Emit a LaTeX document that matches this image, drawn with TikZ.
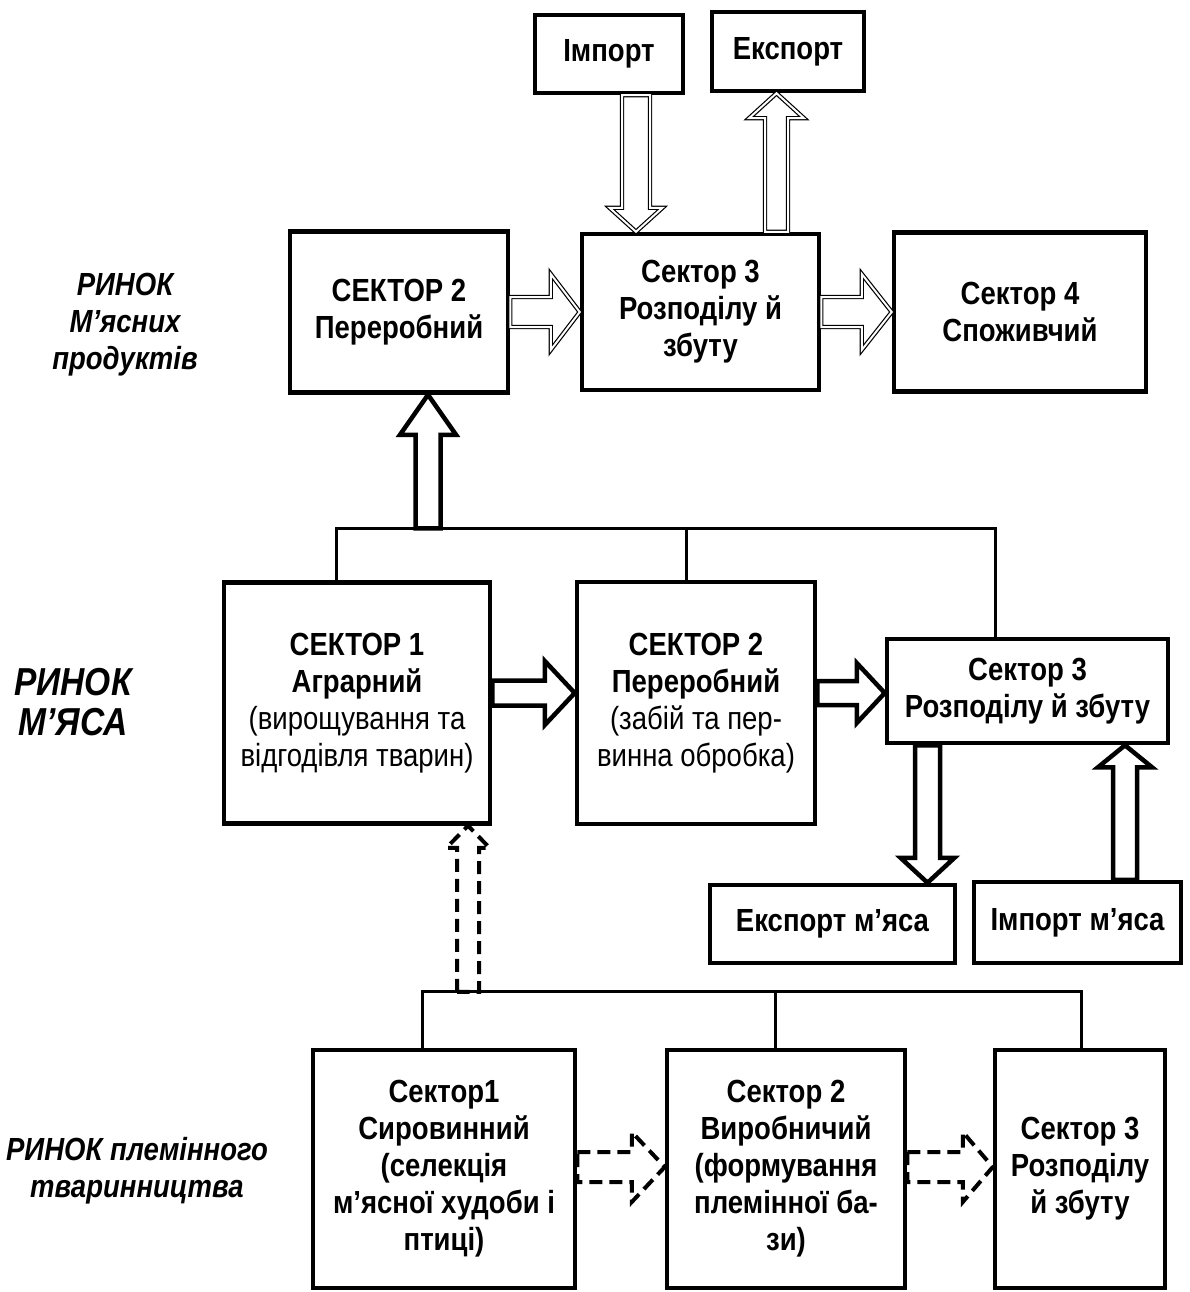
\documentclass[tikz,border=0pt]{standalone}
\usepackage{fontspec}
\setmainfont[FakeStretch=0.86]{Liberation Sans}
\usetikzlibrary{positioning,calc}

\begin{document}
\begin{tikzpicture}[x = 1pt, y = -1pt, on grid,
                    sector/.style = {rectangle,
                                     draw,
                                     line width = 4.5pt,
                                     inner sep = 0pt,
                                     align = center,
                                     font = \bfseries\fontsize{32}{37}\selectfont},
                    market/.style = {align = center,
                                     font = \bfseries\itshape\fontsize{32}{37}\selectfont},
                    branch/.style = {line width = 3pt},
                    blockpath/.style n args = {3}{to path = {
                        ($(\tikztostart)!#1!90:(\tikztotarget)$)
                        -- ($(\tikztotarget)!#3!(\tikztostart)!#1!90:(\tikztotarget)$)
                        -- ($(\tikztotarget)!#3!(\tikztostart)!#2!90:(\tikztotarget)$)
                        -- (\tikztotarget)
                        -- ($(\tikztotarget)!#3!(\tikztostart)!#2!-90:(\tikztotarget)$)
                        -- ($(\tikztotarget)!#3!(\tikztostart)!#1!-90:(\tikztotarget)$)
                        -- ($(\tikztostart)!#1!-90:(\tikztotarget)$) -- cycle}},
                    flow/.style n args   = {3}{blockpath = {#1}{#2}{#3},
                                     fill = white,
                                     line width = 1.2pt,
                                     double = white,
                                     double distance = 2pt},
                    link/.style n args   = {3}{blockpath = {#1}{#2}{#3},
                                     fill = white,
                                     line width = 4.5pt},
                    supply/.style n args = {3}{blockpath = {#1}{#2}{#3},
                                     line width = 4pt,
                                     dash pattern = on 13pt off 7pt}]

\useasboundingbox (0,0) rectangle (1189,1292);

% meat products market
\node[sector, minimum width = 218, minimum height = 161] (P2top) at (399,312)
      {СЕКТОР 2\\Переробний};
\node[sector, minimum width = 237, minimum height = 156] (D3top) [right = 301.5pt of P2top]
      {Сектор 3\\Розподілу й\\збуту};
\node[sector, minimum width = 252, minimum height = 159] (C4) [right = 319.5pt of D3top]
      {Сектор 4\\Споживчий};
\node[sector, minimum width = 148, minimum height = 78] (imp) [above left = 258pt and 91.5pt of D3top]
      {Імпорт};
\node[sector, minimum width = 152, minimum height = 79] (exp) [above right = 260.5pt and 87.5pt of D3top]
      {Експорт};

% meat market
\node[sector, minimum width = 266, minimum height = 241] (A1) at (357,703)
      {СЕКТОР 1\\Аграрний\\\mdseries(вирощування та\\\mdseries відгодівля тварин)};
\node[sector, minimum width = 238, minimum height = 242] (P2mid) [right = 339pt of A1]
      {СЕКТОР 2\\Переробний\\\mdseries(забій та пер-\\\mdseries винна обробка)};
\node[sector, minimum width = 281, minimum height = 104] (D3mid) [above right = 12pt and 331.5pt of P2mid]
      {Сектор 3\\Розподілу й збуту};
\node[sector, minimum width = 245, minimum height = 78] (expM) [below left = 233pt and 195pt of D3mid]
      {Експорт м’яса};
\node[sector, minimum width = 207, minimum height = 81] (impM) [below right = 231.5pt and 50pt of D3mid]
      {Імпорт м’яса};

% breeding market
\node[sector, minimum width = 262, minimum height = 238] (B1) at (444,1169)
      {Сектор1\\Сировинний\\(селекція\\м’ясної худоби і\\птиці)};
\node[sector, minimum width = 238, minimum height = 238] (B2) [right = 342pt of B1]
      {Сектор 2\\Виробничий\\(формування\\племінної ба-\\зи)};
\node[sector, minimum width = 170, minimum height = 238] (B3) [right = 294pt of B2]
      {Сектор 3\\Розподілу\\й збуту};

\node[market] (lab1) at (125,325) {РИНОК\\М’ясних\\продуктів};
\node[market, font = \bfseries\itshape\fontsize{39}{40}\selectfont] (lab2) at (73,702) {РИНОК\\М’ЯСА};
\node[market] (lab3) at (137,1171) {РИНОК племінного\\тваринництва};

% top arrows
\coordinate (impx) at ([xshift=27pt]imp.south);
\coordinate (expx) at ([xshift=76pt]D3top.north);
\draw[flow = {14pt}{26.5pt}{24pt}] (impx) to (impx |- D3top.north);
\draw[flow = {11.5pt}{27.5pt}{25pt}] (expx) to (expx |- exp.south);
\draw[flow = {15pt}{38pt}{29pt}] (P2top.east) to (P2top.east -| D3top.west);
\draw[flow = {15pt}{38pt}{30pt}] (D3top.east) to (D3top.east -| C4.west);

% middle bus and arrows
\coordinate (a1up) at ([xshift=-21pt]A1.north);
\coordinate (p2up) at ([xshift=-10pt]P2mid.north);
\coordinate (d3up) at ([xshift=-32pt]D3mid.north);
\draw[branch] (a1up) -- ++(0,-52) coordinate (bus1) -| (d3up);
\draw[branch] (p2up) -- (p2up |- bus1);

\coordinate (p2low) at ([xshift=29pt]P2top.south);
\draw[link = {12.5pt}{28pt}{40pt}] (p2low |- bus1) to (p2low);

\coordinate (a1out) at ([yshift=10pt]A1.east);
\coordinate (p2out) at ([yshift=10pt]P2mid.east);
\draw[link = {12.5pt}{32pt}{30pt}] (a1out) to (a1out -| P2mid.west);
\draw[link = {12pt}{30pt}{28pt}] (p2out) to (p2out -| D3mid.west);

\coordinate (d3exp) at ([xshift=-100pt]D3mid.south);
\coordinate (d3imp) at ([xshift=47.5pt]impM.north);
\draw[link = {12.5pt}{27pt}{25pt}] (d3exp) to (d3exp |- expM.north);
\draw[link = {12pt}{27pt}{22pt}] (d3imp) to (d3imp |- D3mid.south);

% bottom bus and arrows
\coordinate (b1up) at ([xshift=-22pt]B1.north);
\coordinate (b2up) at ([xshift=-11pt]B2.north);
\coordinate (b3up) at ([xshift=1pt]B3.north);
\draw[branch] (b1up) -- ++(0,-56) coordinate (bus2) -| (b3up);
\draw[branch] (b2up) -- (b2up |- bus2);

\coordinate (a1in) at ([xshift=111pt]A1.south);
\draw[supply = {11pt}{21.5pt}{22pt}] (a1in |- bus2) to (a1in);

\coordinate (b1out) at ([yshift=2pt]B1.east);
\coordinate (b2out) at ([yshift=2pt]B2.east);
\draw[supply = {15pt}{35pt}{33pt}] (b1out) to (b1out -| B2.west);
\draw[supply = {15pt}{35pt}{30pt}] (b2out) to (b2out -| B3.west);

\end{tikzpicture}
\end{document}
